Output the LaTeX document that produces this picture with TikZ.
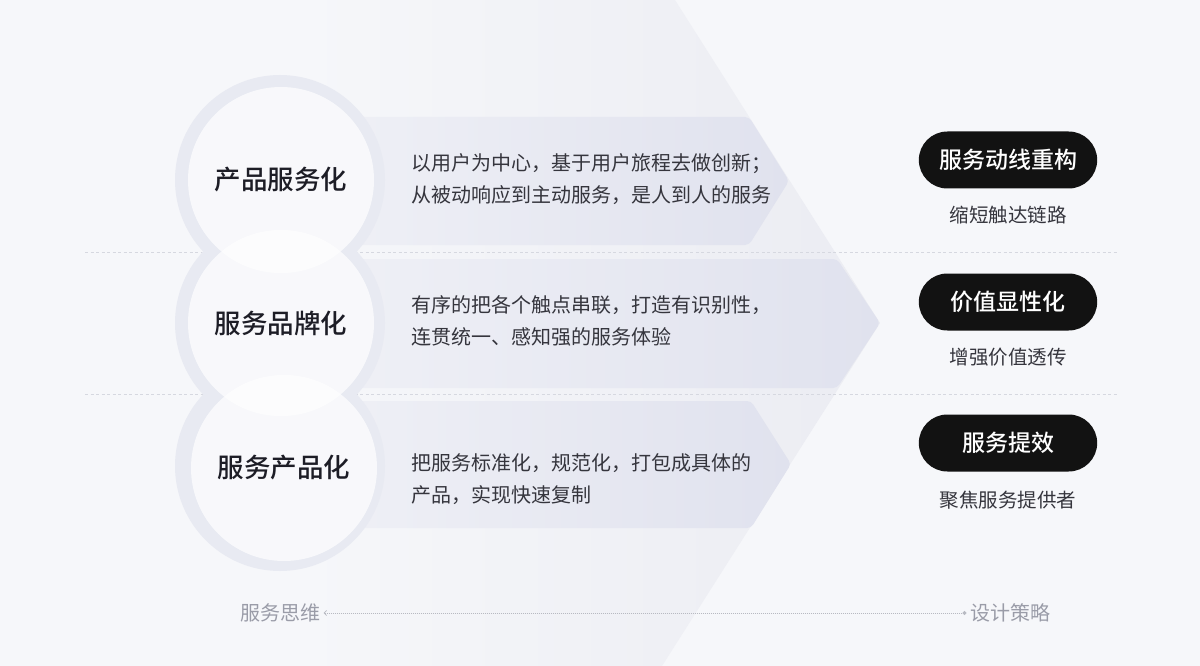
\documentclass[tikz,border=0pt]{standalone}
\usepackage{fontspec}
\setmainfont{Noto Sans CJK SC}[BoldFont={Noto Sans CJK SC Medium}]
\usetikzlibrary{shapes.misc,arrows.meta}

\definecolor{bg}{HTML}{F6F7FA}
\definecolor{edge}{HTML}{EBECF2}
\definecolor{bandL}{HTML}{EFF0F6}
\definecolor{bandR}{HTML}{E0E2EE}
\definecolor{ring}{HTML}{E8EAF2}
\definecolor{sep}{HTML}{D6D8E0}
\definecolor{ink}{HTML}{1D1D26}
\definecolor{txt}{HTML}{35353D}
\definecolor{muted}{HTML}{9A9CA8}
\definecolor{pill}{HTML}{121212}

\begin{document}
\begin{tikzpicture}[x=1pt,y=-1pt,
	stage/.style={circle,minimum size=186pt,inner sep=0pt,fill=white,fill opacity=0.7,text opacity=1,text=ink,font=\fontsize{26.5}{30}\selectfont\bfseries},
	desc/.style={anchor=west,align=left,text=txt,font=\fontsize{20}{32}\selectfont},
	goal/.style={rounded rectangle,fill=pill,text=white,minimum width=185pt,minimum height=57pt,font=\fontsize{23}{26}\selectfont\bfseries},
	gain/.style={text=txt,font=\fontsize{19.5}{24}\selectfont},
	axis/.style={text=muted,font=\fontsize{20}{24}\selectfont},
	band/.style={left color=bandL,right color=bandR,rounded corners=4pt},
	rule/.style={sep,line width=0.8pt,dash pattern=on 3pt off 2.5pt}]

	\fill[bg] (0,0) rectangle (1200,666);
	\useasboundingbox (0,0) rectangle (1200,666);
	\shade[left color=bg,right color=edge] (300,0) -- (675,0) -- (880,323) -- (662,666) -- (300,666) -- cycle;

	\shade[band] (330,117) -- (749,117) -- (789,181) -- (749,245) -- (330,245) -- cycle;
	\shade[band] (330,259) -- (837,259) -- (880,323) -- (837,388) -- (330,388) -- cycle;
	\shade[band] (330,401) -- (751,401) -- (791,464) -- (751,528) -- (330,528) -- cycle;

	\draw[rule] (85,252) -- (1117,252);
	\draw[rule] (85,394) -- (1117,394);

	\fill[ring] (280,180) circle[radius=105pt];
	\fill[ring] (280,323) circle[radius=105pt];
	\fill[ring] (280,466) circle[radius=105pt];

	\node[stage] (s1) at (281,180) {产品服务化};
	\node[stage] (s2) at (281,323) {服务品牌化};
	\node[stage] (s3) at (284,468) {服务产品化};

	\node[desc] (d1) at (408,179) {以用户为中心，基于用户旅程去做创新；\\从被动响应到主动服务，是人到人的服务};
	\node[desc] (d2) at (408,321) {有序的把各个触点串联，打造有识别性，\\连贯统一、感知强的服务体验};
	\node[desc] (d3) at (408,479) {把服务标准化，规范化，打包成具体的\\产品，实现快速复制};

	\node[goal] (g1) at (1008,160) {服务动线重构};
	\node[gain] (n1) at (1008,215) {缩短触达链路};
	\node[goal] (g2) at (1008,302) {价值显性化};
	\node[gain] (n2) at (1008,357) {增强价值透传};
	\node[goal] (g3) at (1008,443) {服务提效};
	\node[gain] (n3) at (1008,500) {聚焦服务提供者};

	\node[axis] (think) at (280,613) {服务思维};
	\node[axis] (plan) at (1010,613) {设计策略};
	\draw[muted!70,line width=0.8pt,dash pattern=on 0.8pt off 1.2pt,{Straight Barb[length=2.5pt,width=5pt]}-{Circle[length=4pt]}] (think.east) -- (plan.west);
\end{tikzpicture}
\end{document}
